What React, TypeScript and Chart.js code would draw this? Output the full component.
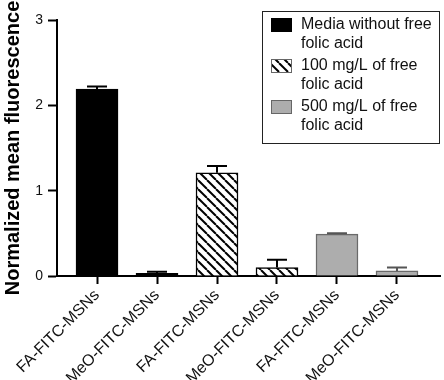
import { useEffect, useRef } from "react";
import { Chart, registerables } from "chart.js";

Chart.register(...registerables);

const FONT = 'Arial, "Liberation Sans", Helvetica, sans-serif';

// Sample groups along the x axis
const categories = [
  "FA-FITC-MSNs",
  "MeO-FITC-MSNs",
  "FA-FITC-MSNs",
  "MeO-FITC-MSNs",
  "FA-FITC-MSNs",
  "MeO-FITC-MSNs",
];

// Incubation conditions (one series each, two bars per series)
const seriesLabels = [
  "Media without free folic acid",
  "100 mg/L of free folic acid",
  "500 mg/L of free folic acid",
];

// Normalized mean fluorescence and SD for each condition
const mediaMeans = [2.19, 0.03];
const mediaErrors = [0.03, 0.02];
const folic100Means = [1.21, 0.1];
const folic100Errors = [0.08, 0.09];
const folic500Means = [0.49, 0.06];
const folic500Errors = [0.01, 0.04];

const yTicks = [0, 1, 2, 3];

function makeHatch(): CanvasPattern | string {
  const p = 9;
  const c = document.createElement("canvas");
  c.width = p;
  c.height = p;
  const g = c.getContext("2d");
  if (!g) return "#fff";
  g.fillStyle = "#fff";
  g.fillRect(0, 0, p, p);
  g.strokeStyle = "#000";
  g.lineWidth = 2;
  for (let k = -1; k <= 1; k++) {
    g.beginPath();
    g.moveTo(k * p, 0);
    g.lineTo(k * p + p, p);
    g.stroke();
  }
  return g.createPattern(c, "repeat") || "#fff";
}

const errorBars = {
  id: "errorBars",
  afterDatasetsDraw(chart: any) {
    const ctx = chart.ctx;
    const y = chart.scales.y;
    ctx.save();
    chart.data.datasets.forEach((ds: any, di: number) => {
      const meta = chart.getDatasetMeta(di);
      meta.data.forEach((bar: any, i: number) => {
        const v = ds.data[i].y;
        const e = ds.errors[i];
        const top = y.getPixelForValue(v + e);
        const base = y.getPixelForValue(v);
        ctx.strokeStyle = ds.errorColor;
        ctx.lineWidth = 2;
        ctx.beginPath();
        ctx.moveTo(bar.x, base);
        ctx.lineTo(bar.x, top);
        ctx.moveTo(bar.x - 10, top);
        ctx.lineTo(bar.x + 10, top);
        ctx.stroke();
      });
    });
    ctx.restore();
  },
};

function wrapText(ctx: CanvasRenderingContext2D, text: string, maxW: number) {
  const words = text.split(" ");
  const lines: string[] = [];
  let cur = "";
  words.forEach((w) => {
    const t = cur ? cur + " " + w : w;
    if (ctx.measureText(t).width > maxW && cur) {
      lines.push(cur);
      cur = w;
    } else cur = t;
  });
  if (cur) lines.push(cur);
  return lines;
}

const boxLegend = {
  id: "boxLegend",
  afterDraw(chart: any) {
    const ctx = chart.ctx as CanvasRenderingContext2D;
    ctx.save();
    ctx.strokeStyle = "#222";
    ctx.lineWidth = 1;
    ctx.strokeRect(262.5, 11.5, 177, 132);
    ctx.font = "16px " + FONT;
    ctx.textBaseline = "middle";
    ctx.textAlign = "left";
    let y = 25;
    chart.data.datasets.forEach((ds: any) => {
      ctx.fillStyle = ds.backgroundColor;
      ctx.fillRect(271, y - 7, 21, 14);
      ctx.strokeStyle = ds.swatchBorder;
      ctx.lineWidth = 1;
      ctx.strokeRect(271.5, y - 6.5, 20, 13);
      ctx.fillStyle = "#111";
      wrapText(ctx, ds.label, 134).forEach((ln, i) => {
        ctx.fillText(ln, 301, y + i * 19);
      });
      y += 41;
    });
    ctx.restore();
  },
};

export default function App() {
  const ref = useRef<HTMLCanvasElement>(null);

  useEffect(() => {
    if (!ref.current) return;
    const hatch = makeHatch();
    const toPoints = (vals: number[], start: number) =>
      vals.map((v, i) => ({ x: start + i, y: v }));

    const common = {
      grouped: false,
      barThickness: 42,
      borderSkipped: "bottom",
    };

    const chart = new Chart(ref.current, {
      type: "bar",
      data: {
        datasets: [
          {
            ...common,
            label: seriesLabels[0],
            data: toPoints(mediaMeans, 0),
            errors: mediaErrors,
            backgroundColor: "#000",
            borderColor: "#000",
            borderWidth: 1,
            swatchBorder: "#000",
            errorColor: "#000",
          },
          {
            ...common,
            label: seriesLabels[1],
            data: toPoints(folic100Means, 2),
            errors: folic100Errors,
            backgroundColor: hatch,
            borderColor: "#000",
            borderWidth: 1.5,
            swatchBorder: "#666",
            errorColor: "#000",
          },
          {
            ...common,
            label: seriesLabels[2],
            data: toPoints(folic500Means, 4),
            errors: folic500Errors,
            backgroundColor: "#adadad",
            borderColor: "#6a6a6a",
            borderWidth: 1.5,
            swatchBorder: "#666",
            errorColor: "#555",
          },
        ] as any,
      },
      options: {
        responsive: false,
        animation: false,
        layout: { padding: { top: 20, right: 4, left: 0, bottom: 0 } },
        plugins: {
          legend: { display: false },
          tooltip: { enabled: false },
        },
        scales: {
          x: {
            type: "linear",
            offset: false,
            min: -0.667,
            max: 5.717,
            afterBuildTicks: (s: any) => {
              s.ticks = categories.map((_, i) => ({ value: i }));
            },
            afterFit: (s: any) => {
              s.height = 104;
            },
            ticks: {
              callback: (v: any) => categories[v as number],
              minRotation: 45,
              maxRotation: 45,
              autoSkip: false,
              color: "#111",
              padding: 2,
              font: { family: FONT, size: 16 },
            },
            grid: {
              display: true,
              offset: false,
              drawOnChartArea: false,
              tickLength: 8,
              tickWidth: 2,
              tickColor: "#000",
            },
            border: { display: true, color: "#000", width: 2 },
          },
          y: {
            min: 0,
            max: 3,
            afterBuildTicks: (s: any) => {
              s.ticks = yTicks.map((v) => ({ value: v }));
            },
            afterFit: (s: any) => {
              s.width = 57;
            },
            ticks: {
              color: "#111",
              padding: 5,
              font: { family: FONT, size: 14 },
            },
            grid: {
              display: true,
              drawOnChartArea: false,
              tickLength: 9,
              tickWidth: 2,
              tickColor: "#000",
            },
            border: { display: true, color: "#000", width: 2 },
            title: {
              display: true,
              text: "Normalized mean fluorescence",
              color: "#000",
              padding: { top: 1, bottom: 0 },
              font: { family: FONT, size: 20, weight: "bold" },
            },
          },
        },
      } as any,
      plugins: [errorBars, boxLegend],
    });
    return () => chart.destroy();
  }, []);

  return (
    <div style={{ position: "absolute", left: 0, top: 0, width: 444, height: 380, background: "#fff" }}>
      <canvas ref={ref} width={444} height={380} style={{ display: "block" }} />
    </div>
  );
}
